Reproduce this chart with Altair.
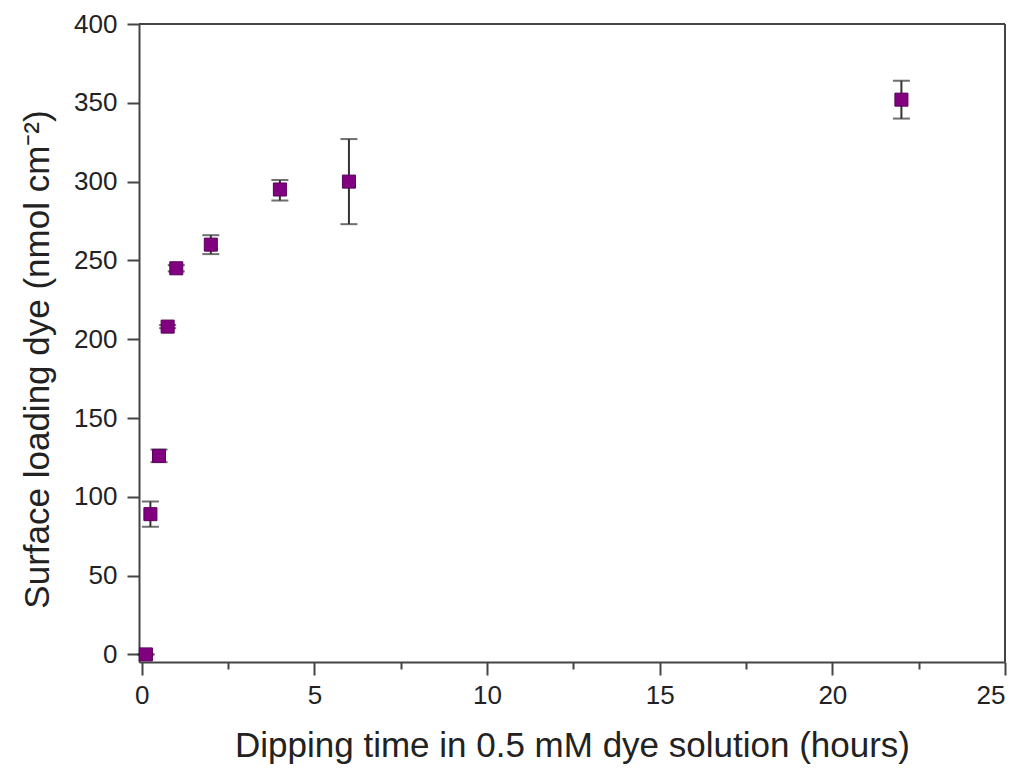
import altair as alt
import pandas as pd

hours = [0.12, 0.25, 0.5, 0.75, 1.0, 2.0, 4.0, 6.0, 22.0]
loading = [0, 89, 126, 208, 245, 260, 295, 300, 352]
err_low = [0, 81, 122, 207, 243, 254, 288, 273, 340]
err_high = [0, 97, 130, 209, 247, 266, 301, 327, 364]

x_ticks = [i * 2.5 for i in range(11)]
y_ticks = [i * 25 for i in range(17)]

df = pd.DataFrame({"t": hours, "y": loading, "lo": err_low, "hi": err_high})

FONT = "Liberation Sans"
TXT = "#222222"
LN = "#444444"
W, H = 866, 638

xs = alt.Scale(domain=[-0.08, 25], nice=False, zero=False)
ys = alt.Scale(domain=[-4.8, 400], nice=False, zero=False)

x_axis = alt.Axis(
    title="Dipping time in 0.5 mM dye solution (hours)",
    values=x_ticks,
    labelExpr="datum.value % 5 === 0 ? datum.label : ''",
    tickSize={"condition": {"test": "datum.value % 5 === 0", "value": 13}, "value": 7},
    grid=False,
    labelFontSize=26, titleFontSize=35, labelFont=FONT, titleFont=FONT,
    labelColor=TXT, titleColor=TXT, titleFontWeight="normal",
    domainColor=LN, tickColor=LN, domainWidth=2, tickWidth=2,
    labelPadding=7, titleY=94, titleBaseline="alphabetic",
)
y_axis = alt.Axis(
    title="Surface loading dye (nmol cm⁻²)",
    values=y_ticks,
    labelExpr="datum.value % 50 === 0 ? datum.label : ''",
    tickSize={"condition": {"test": "datum.value % 50 === 0", "value": 12}, "value": 6},
    grid=False,
    labelFontSize=26, titleFontSize=35, labelFont=FONT, titleFont=FONT,
    labelColor=TXT, titleColor=TXT, titleFontWeight="normal",
    domainColor=LN, tickColor=LN, domainWidth=2, tickWidth=2,
    labelPadding=10, titleX=-91, titleY=335, titleBaseline="alphabetic",
    titleAlign="center", titleAngle=270,
)

base = alt.Chart(df)

bars = base.mark_rule(color="#333333", strokeWidth=2).encode(
    x=alt.X("t:Q", scale=xs, axis=x_axis),
    y=alt.Y("lo:Q", scale=ys, axis=y_axis),
    y2="hi:Q",
)
cap_lo = base.mark_tick(color="#333333", orient="horizontal", size=17, thickness=2).encode(
    x=alt.X("t:Q", scale=xs), y=alt.Y("lo:Q", scale=ys)
)
cap_hi = base.mark_tick(color="#333333", orient="horizontal", size=17, thickness=2).encode(
    x=alt.X("t:Q", scale=xs), y=alt.Y("hi:Q", scale=ys)
)
pts = base.mark_square(size=170, color="#800080", opacity=1, stroke="#5a005a", strokeWidth=1).encode(
    x=alt.X("t:Q", scale=xs), y=alt.Y("y:Q", scale=ys)
)
top_line = alt.Chart(df).mark_rule(color=LN, strokeWidth=2).encode(
    x=alt.value(0), x2=alt.value(W), y=alt.value(0)
)
right_line = alt.Chart(df).mark_rule(color=LN, strokeWidth=2).encode(
    x=alt.value(W), y=alt.value(0), y2=alt.value(H)
)

chart = (
    alt.layer(top_line, right_line, bars, cap_lo, cap_hi, pts)
    .properties(width=W, height=H, autosize=alt.AutoSizeParams(type="none"),
                padding={"left": 131, "top": 16, "right": 10, "bottom": 104})
    .configure_view(stroke=None)
    .configure(background="white")
)

chart.save("out.html", embed_options={"renderer": "svg", "actions": False})
